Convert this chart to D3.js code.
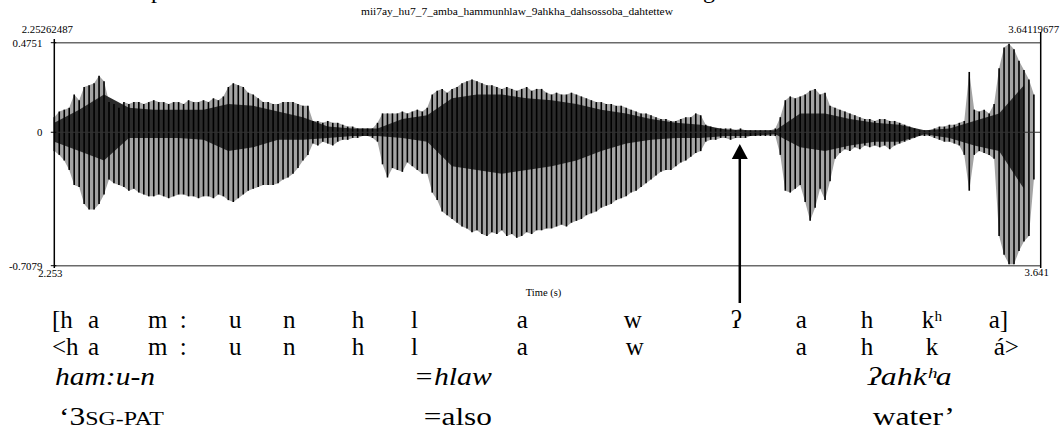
<!DOCTYPE html>
<html>
<head>
<meta charset="utf-8">
<script src="https://cdn.jsdelivr.net/npm/d3@7"></script>
<style>
  body { margin: 0; background: #fff; }
  text { font-family: "Liberation Serif", "DejaVu Serif", serif; }
</style>
</head>
<body>
<div id="chart"></div>
<script>
// --- data (amplitude envelope per 7 ms bin) ---
const tStart = 2.25262487, tEnd = 3.64119677;
const ampTop = 0.4751, ampBottom = -0.7079;
const binStep = 0.007;
const fileName = 'mii7ay_hu7_7_amba_hammunhlaw_9ahkha_dahsossoba_dahtettew';

const upper = [
  0.08,0.11,0.12,0.13,0.20,0.17,0.24,0.25,0.26,0.30,
  0.27,0.16,0.15,0.13,0.16,0.15,0.16,0.16,0.15,0.16,
  0.17,0.16,0.16,0.15,0.16,0.16,0.15,0.17,0.16,0.16,
  0.17,0.16,0.18,0.17,0.19,0.24,0.26,0.25,0.24,0.21,
  0.20,0.18,0.16,0.16,0.15,0.15,0.16,0.16,0.16,0.15,
  0.14,0.14,0.06,0.06,0.05,0.06,0.05,0.05,0.04,0.03,
  0.03,0.02,0.02,0.02,0.02,0.05,0.10,0.10,0.10,0.10,
  0.11,0.10,0.11,0.12,0.11,0.13,0.20,0.22,0.23,0.21,
  0.23,0.24,0.26,0.27,0.28,0.27,0.26,0.25,0.25,0.24,
  0.23,0.24,0.23,0.22,0.23,0.24,0.22,0.23,0.23,0.21,
  0.20,0.21,0.20,0.20,0.21,0.20,0.19,0.18,0.17,0.16,
  0.16,0.15,0.15,0.14,0.14,0.13,0.12,0.11,0.10,0.10,
  0.09,0.08,0.07,0.07,0.06,0.06,0.07,0.08,0.08,0.10,
  0.09,0.04,0.03,0.02,0.02,0.02,0.02,0.01,0.02,0.01,
  0.01,0.01,0.01,0.01,0.01,0.02,0.08,0.17,0.19,0.18,
  0.19,0.20,0.22,0.23,0.20,0.21,0.14,0.13,0.12,0.11,
  0.10,0.09,0.08,0.07,0.07,0.06,0.07,0.07,0.06,0.06,
  0.05,0.04,0.03,0.02,0.01,0.01,0.01,0.02,0.03,0.03,
  0.04,0.04,0.05,0.06,0.32,0.12,0.11,0.12,0.10,0.15,
  0.34,0.45,0.47,0.44,0.38,0.33,0.28,0.20
];
const lower = [
  -0.10,-0.12,-0.15,-0.20,-0.28,-0.29,-0.38,-0.41,-0.41,-0.38,
  -0.33,-0.25,-0.27,-0.28,-0.29,-0.31,-0.30,-0.32,-0.33,-0.34,
  -0.34,-0.33,-0.34,-0.35,-0.34,-0.33,-0.33,-0.34,-0.34,-0.35,
  -0.34,-0.34,-0.35,-0.33,-0.34,-0.36,-0.37,-0.35,-0.33,-0.31,
  -0.30,-0.29,-0.28,-0.28,-0.28,-0.27,-0.25,-0.24,-0.22,-0.19,
  -0.15,-0.12,-0.06,-0.07,-0.05,-0.06,-0.07,-0.05,-0.04,-0.04,
  -0.03,-0.03,-0.02,-0.02,-0.03,-0.05,-0.17,-0.24,-0.19,-0.20,
  -0.21,-0.16,-0.18,-0.20,-0.22,-0.22,-0.32,-0.36,-0.42,-0.44,
  -0.46,-0.48,-0.50,-0.51,-0.53,-0.52,-0.54,-0.55,-0.53,-0.54,
  -0.52,-0.55,-0.54,-0.56,-0.55,-0.53,-0.54,-0.52,-0.52,-0.51,
  -0.51,-0.50,-0.49,-0.50,-0.48,-0.47,-0.46,-0.44,-0.43,-0.42,
  -0.40,-0.39,-0.38,-0.36,-0.35,-0.34,-0.32,-0.31,-0.29,-0.27,
  -0.25,-0.23,-0.21,-0.20,-0.20,-0.18,-0.16,-0.15,-0.13,-0.11,
  -0.10,-0.05,-0.04,-0.04,-0.03,-0.03,-0.04,-0.03,-0.03,-0.03,
  -0.02,-0.02,-0.02,-0.02,-0.02,-0.02,-0.12,-0.31,-0.32,-0.30,
  -0.28,-0.37,-0.47,-0.40,-0.30,-0.36,-0.26,-0.14,-0.11,-0.09,
  -0.10,-0.08,-0.09,-0.07,-0.08,-0.07,-0.08,-0.07,-0.09,-0.07,
  -0.06,-0.05,-0.04,-0.03,-0.02,-0.02,-0.02,-0.03,-0.04,-0.05,
  -0.05,-0.06,-0.07,-0.12,-0.31,-0.12,-0.10,-0.11,-0.12,-0.14,
  -0.55,-0.65,-0.70,-0.70,-0.63,-0.58,-0.55,-0.25
];

// dense dark core of the waveform, per 35 ms
const coreStep = 0.035;
const coreHi = [0.05,0.12,0.20,0.13,0.12,0.12,0.12,0.15,0.14,0.11,
  0.08,0.03,0.02,0.02,0.07,0.09,0.18,0.20,0.20,0.18,
  0.17,0.15,0.12,0.10,0.07,0.05,0.04,0.015,0.01,0.01,
  0.10,0.10,0.07,0.05,0.04,0.01,0.02,0.06,0.10,0.25];
const coreLo = [-0.05,-0.10,-0.15,-0.03,-0.03,-0.03,-0.04,-0.10,-0.08,-0.04,
  -0.04,-0.03,-0.02,-0.02,-0.03,-0.05,-0.18,-0.20,-0.22,-0.20,
  -0.18,-0.15,-0.10,-0.06,-0.04,-0.03,-0.03,-0.02,-0.02,-0.01,
  -0.08,-0.10,-0.07,-0.05,-0.05,-0.01,-0.03,-0.07,-0.10,-0.30];

// transcription tiers: [text, start time in s]
const phones = [['[h',2.2494],['a',2.3000],['m',2.3845],[':',2.4292],['u',2.4984],['n',2.5744],
  ['h',2.6715],['l',2.7546],['a',2.9037],['w',3.0543],['ʔ',3.2049],['a',3.2964],['h',3.3878],
  ['kʰ',3.4737],['a]',3.5680]];
const letters = [['<h',2.2494],['a',2.3000],['m',2.3845],[':',2.4292],['u',2.4984],['n',2.5744],
  ['h',2.6715],['l',2.7546],['a',2.9037],['w',3.0571],['a',3.2964],['h',3.3878],['k',3.4793],['á>',3.5750]];
const morphs = [['ham:u-n',2.2536],['=hlaw',2.7588],['ʔahkʰa',3.3977]];
// gloss parts: [text, smallCaps]
const glosses = [
  {t: 2.2592, parts: [['‘3', false], ['SG-PAT', true]]},
  {t: 2.7729, parts: [['=also', false]]},
  {t: 3.4047, parts: [['water’', false]]}
];
const glottalStopTime = 3.2176;

// --- layout ---
const W = 1063, H = 435;
const plotL = 54.3, plotR = 1040.7, plotT = 42.7, plotB = 265.7;
const fontMain = 25;
const morphWidths = [100, 78, 84];
const glossWidths = [105, 68, 82];

const svg = d3.select('#chart').append('svg')
    .attr('width', W).attr('height', H);

const x = d3.scaleLinear().domain([tStart, tEnd]).range([plotL, plotR]);
const y = d3.scaleLinear().domain([ampBottom, ampTop]).range([plotB, plotT]);

const bins = upper.map((u, i) => ({t: tStart + i * binStep, hi: u, lo: lower[i]}));
const core = coreHi.map((u, i) => ({t: tStart + i * coreStep, hi: u, lo: coreLo[i]}));

// cropped caption line above the figure (only descenders visible)
svg.append('text').attr('x', 151).attr('y', -2).attr('font-size', 24).text('p');
svg.append('text').attr('x', 703).attr('y', -2).attr('font-size', 24).text('g');

// title
svg.append('text')
    .attr('x', 517).attr('y', 15)
    .attr('text-anchor', 'middle')
    .attr('font-size', 10.5)
    .attr('textLength', 312).attr('lengthAdjust', 'spacingAndGlyphs')
    .text(fileName);

// frame top / bottom
svg.append('line').attr('x1', plotL).attr('x2', plotR).attr('y1', plotT).attr('y2', plotT)
    .attr('stroke', '#6a6a6a').attr('stroke-width', 1.4);
svg.append('line').attr('x1', plotL).attr('x2', plotR).attr('y1', plotB).attr('y2', plotB)
    .attr('stroke', '#6a6a6a').attr('stroke-width', 1.4);

// waveform: shaded envelope, dark core, pulse strokes
const area = d3.area()
    .x(d => x(d.t))
    .y0(d => y(d.lo))
    .y1(d => y(d.hi));

svg.append('path')
    .datum(bins)
    .attr('d', area)
    .attr('fill', '#a4a4a4');

svg.append('path')
    .datum(core)
    .attr('d', area)
    .attr('fill', '#2b2b2b');

svg.append('g')
    .selectAll('line')
    .data(bins)
    .enter()
    .append('line')
    .attr('x1', d => x(d.t)).attr('x2', d => x(d.t))
    .attr('y1', d => y(d.hi)).attr('y2', d => y(d.lo))
    .attr('stroke', '#000')
    .attr('stroke-width', 1.6);

// zero line
svg.append('line').attr('x1', plotL).attr('x2', plotR).attr('y1', y(0)).attr('y2', y(0))
    .attr('stroke', '#333').attr('stroke-width', 1);

// vertical axes
svg.append('line').attr('x1', plotL).attr('x2', plotL).attr('y1', 39).attr('y2', 268)
    .attr('stroke', '#000').attr('stroke-width', 1.5);
svg.append('line').attr('x1', plotR).attr('x2', plotR).attr('y1', 32).attr('y2', 268)
    .attr('stroke', '#000').attr('stroke-width', 1.5);

// y ticks + labels
[ampTop, 0, ampBottom].forEach(v => {
  svg.append('line').attr('x1', plotL - 3.5).attr('x2', plotL + 2).attr('y1', y(v)).attr('y2', y(v))
      .attr('stroke', '#000').attr('stroke-width', 1);
  svg.append('text')
      .attr('x', plotL - 12).attr('y', y(v) + 4)
      .attr('text-anchor', 'end')
      .attr('font-size', 10.8)
      .text(v === 0 ? '0' : String(v));
});

// time labels
const fmtLong = d3.format('.8f'), fmtShort = d3.format('.3f');
svg.append('text').attr('x', x(tStart) - 7).attr('y', 33).attr('text-anchor', 'middle')
    .attr('font-size', 10.8).text(fmtLong(tStart));
svg.append('text').attr('x', x(tEnd) - 7).attr('y', 33).attr('text-anchor', 'middle')
    .attr('font-size', 10.8).text(fmtLong(tEnd));
svg.append('text').attr('x', x(tStart) - 4).attr('y', 277).attr('text-anchor', 'middle')
    .attr('font-size', 10.8).text(fmtShort(tStart));
svg.append('text').attr('x', x(tEnd) - 4).attr('y', 276).attr('text-anchor', 'middle')
    .attr('font-size', 10.8).text(fmtShort(tEnd));
svg.append('text').attr('x', (plotL + plotR) / 2 - 4).attr('y', 296).attr('text-anchor', 'middle')
    .attr('font-size', 10.5).text('Time (s)');

// arrow pointing at the glottal stop
const ax = x(glottalStopTime);
svg.append('line').attr('x1', ax).attr('x2', ax).attr('y1', 303).attr('y2', 156)
    .attr('stroke', '#000').attr('stroke-width', 2.5);
svg.append('path')
    .attr('d', `M${ax},144 L${ax - 8},159 L${ax + 8},159 Z`)
    .attr('fill', '#000');

// transcription tiers
function tier(rows, baseline, italic, widths) {
  const t = svg.append('g').selectAll('text')
      .data(rows).enter()
      .append('text')
      .attr('x', d => x(d[1]))
      .attr('y', baseline)
      .attr('font-size', fontMain)
      .attr('font-style', italic ? 'italic' : 'normal')
      .text(d => d[0]);
  if (widths) t.attr('textLength', (d, i) => widths[i]).attr('lengthAdjust', 'spacingAndGlyphs');
}
tier(phones, 328, false);
tier(letters, 354.5, false);
tier(morphs, 385, true, morphWidths);

const g4 = svg.append('g').selectAll('text')
    .data(glosses).enter()
    .append('text')
    .attr('x', d => x(d.t))
    .attr('y', 425)
    .attr('font-size', fontMain)
    .attr('textLength', (d, i) => glossWidths[i])
    .attr('lengthAdjust', 'spacingAndGlyphs');
g4.selectAll('tspan')
    .data(d => d.parts).enter()
    .append('tspan')
    .attr('font-size', d => d[1] ? 19 : fontMain)
    .text(d => d[0]);
</script>
</body>
</html>
